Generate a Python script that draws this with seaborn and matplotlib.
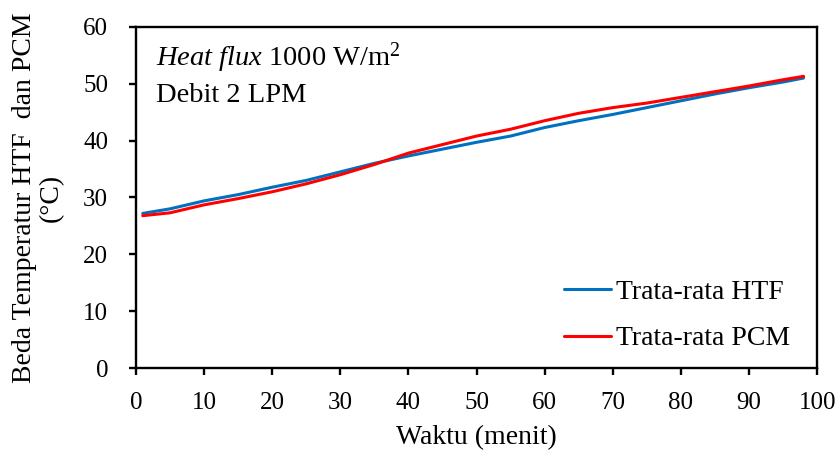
import pandas as pd
import matplotlib.pyplot as plt
import seaborn as sns

# Data
waktu = [1, 5, 10, 15, 20, 25, 30, 35, 40, 45, 50, 55, 60, 65, 70, 75, 80, 85, 90, 95, 98]
htf = [27.2, 28.0, 29.4, 30.5, 31.8, 33.0, 34.5, 36.0, 37.3, 38.5, 39.7, 40.8, 42.3, 43.5, 44.6,
       45.8, 47.0, 48.2, 49.3, 50.3, 51.0]
pcm = [26.8, 27.3, 28.7, 29.8, 31.0, 32.4, 34.0, 35.8, 37.8, 39.3, 40.8, 42.0, 43.5, 44.8, 45.8,
       46.6, 47.6, 48.6, 49.6, 50.7, 51.3]
labels = ['Trata-rata HTF', 'Trata-rata PCM']

df = pd.DataFrame({'waktu': waktu * 2,
                   'suhu': htf + pcm,
                   'seri': [labels[0]] * len(waktu) + [labels[1]] * len(waktu)})

sns.set_style('ticks')
plt.rcParams['font.family'] = ['Liberation Serif', 'DejaVu Serif']
plt.rcParams['mathtext.fontset'] = 'custom'
plt.rcParams['mathtext.rm'] = 'Liberation Serif'
plt.rcParams['mathtext.it'] = 'Liberation Serif:italic'
plt.rcParams['text.color'] = 'black'
plt.rcParams['axes.labelcolor'] = 'black'

fig = plt.figure(figsize=(8.39, 4.55), dpi=100)
ax = fig.add_axes([0.162, 0.191, 0.812, 0.75])
sns.lineplot(data=df, x='waktu', y='suhu', hue='seri', palette=['#0070C0', '#FF0000'],
             linewidth=2.2, ax=ax)

ax.set_xlim(0, 100)
ax.set_ylim(0, 60)
ax.set_xticks(range(0, 101, 10))
ax.set_yticks(range(0, 61, 10))
ax.tick_params(labelsize=18, direction='out', length=5, width=1.7, colors='black')
ax.tick_params(axis='x', pad=12)
ax.tick_params(axis='y', pad=15)
for s in ax.spines.values():
    s.set_linewidth(1.7)
    s.set_color('black')

ax.set_xlabel('Waktu (menit)', fontsize=20, labelpad=8)
ax.set_ylabel('Beda Temperatur HTF  dan PCM\n(\u00b0C)', fontsize=20, linespacing=1.1, labelpad=14)

ax.text(0.03, 0.96, r'$\mathit{Heat\ flux}$ 1000 W/m$^2$', transform=ax.transAxes,
        fontsize=20.5, va='top')
ax.text(0.03, 0.835, 'Debit 2 LPM', transform=ax.transAxes, fontsize=20.5, va='top')

ax.legend(loc='lower right', frameon=False, fontsize=20, handlelength=1.7,
          handletextpad=0.2, labelspacing=0.75, borderaxespad=0.2,
          bbox_to_anchor=(0.985, 0.0))

plt.savefig('out.png', dpi=100)
